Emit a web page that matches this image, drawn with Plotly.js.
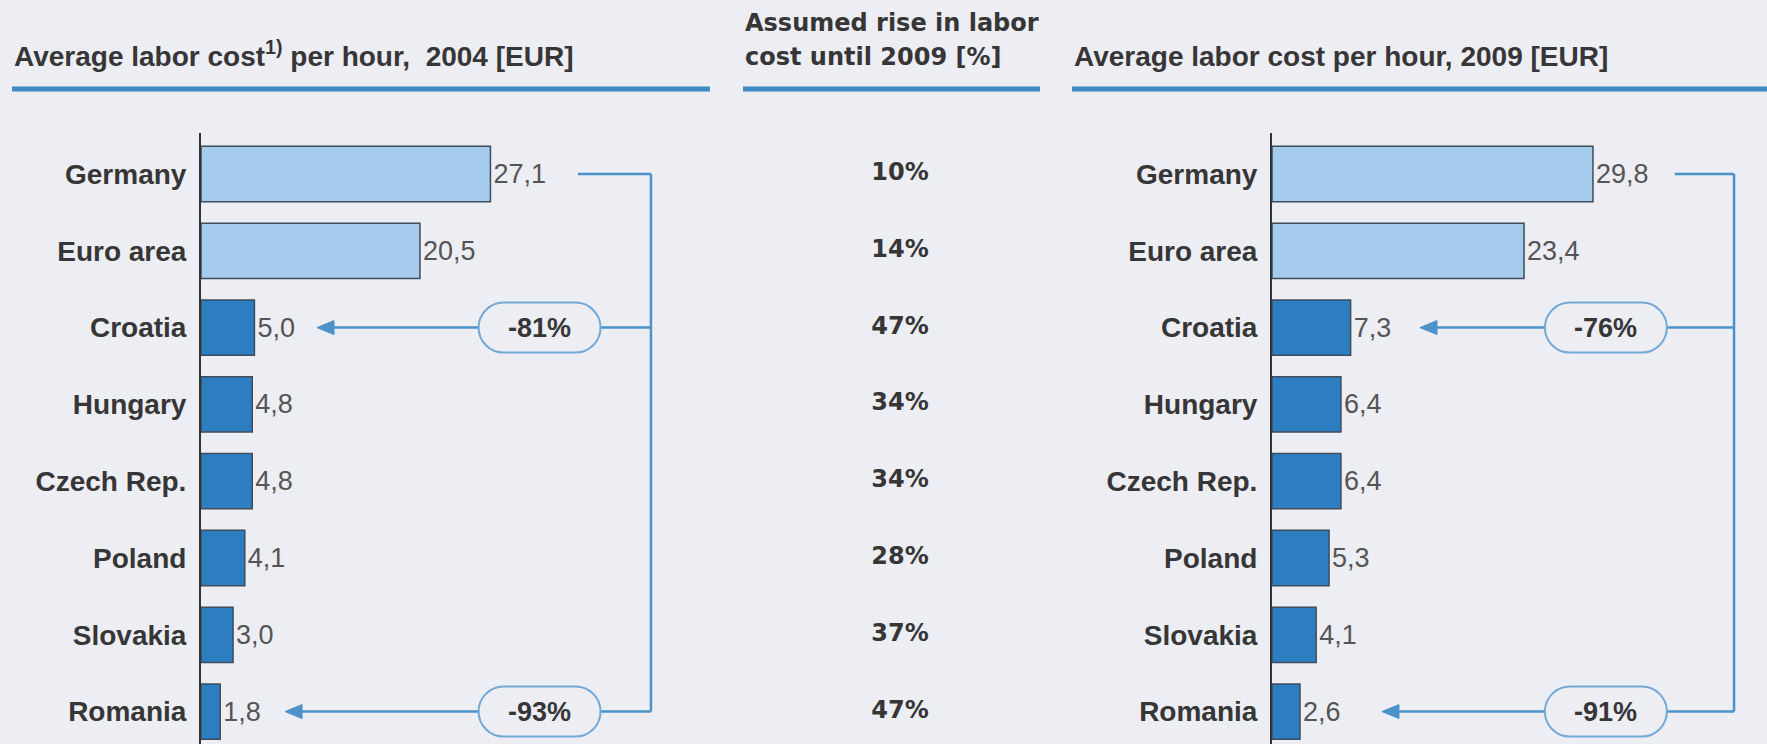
<!DOCTYPE html>
<html>
<head>
<meta charset="utf-8">
<script src="https://cdn.plot.ly/plotly-3.0.1.min.js"></script>
<style>
  html, body { margin: 0; padding: 0; background: #ededf4; }
  #chart { width: 1767px; height: 744px; }
</style>
</head>
<body>
<div id="chart"></div>
<script>
// ---- data ----
const categories = ['Germany', 'Euro area', 'Croatia', 'Hungary', 'Czech Rep.', 'Poland', 'Slovakia', 'Romania'];
const cost2004 = [27.1, 20.5, 5.0, 4.8, 4.8, 4.1, 3.0, 1.8];
const riseUntil2009 = [10, 14, 47, 34, 34, 28, 37, 47];
const cost2009 = [29.8, 23.4, 7.3, 6.4, 6.4, 5.3, 4.1, 2.6];
const gapLabels2004 = ['-81%', '-93%'];   // Croatia, Romania vs Germany
const gapLabels2009 = ['-76%', '-91%'];
const benchmarkGroups = ['Germany', 'Euro area'];

// ---- style ----
const W = 1767, H = 744;
const BG = '#ededf4';
const LIGHT = '#a5ccec', DARK = '#2c7ec1', OUTLINE = '#3e4c5c';
const BLUE = '#4a92c8', PILL = '#74a9d6', TXT = '#363636', VAL = '#555555';
const ARIAL = 'Liberation Sans, Arial, sans-serif';
const VERD = 'DejaVu Sans, Verdana, sans-serif';

const barColors = categories.map(c => benchmarkGroups.includes(c) ? LIGHT : DARK);
const px = v => v / W;
const py = v => 1 - v / H;
const idx = c => categories.indexOf(c);

const barTrace = (vals, xa, ya) => ({
  type: 'bar', orientation: 'h', x: vals, y: categories, xaxis: xa, yaxis: ya,
  width: 0.72,
  marker: { color: barColors, line: { color: OUTLINE, width: 1.5 } },
  text: vals, texttemplate: '%{x:.1f}', textposition: 'outside',
  textfont: { family: ARIAL, size: 27, color: VAL },
  constraintext: 'none', cliponaxis: false, hoverinfo: 'skip'
});

const traces = [
  barTrace(cost2004, 'x', 'y'),
  barTrace(cost2009, 'x2', 'y2'),
  {
    type: 'scatter', mode: 'text', xaxis: 'x3', yaxis: 'y',
    x: categories.map(() => 0.5), y: categories,
    text: riseUntil2009, texttemplate: '%{text}%',
    textfont: { family: VERD, size: 24, color: TXT, weight: 'bold' },
    cliponaxis: false, hoverinfo: 'skip'
  }
];

// pill path (pixel units around anchor)
function pillPath(w, h) {
  const r = h, a = w - r, k = 0.5523 * r;
  return `M ${-a} ${-h} L ${a} ${-h} C ${a + k} ${-h} ${w} ${-k} ${w} 0 ` +
         `C ${w} ${k} ${a + k} ${h} ${a} ${h} L ${-a} ${h} ` +
         `C ${-a - k} ${h} ${-w} ${k} ${-w} 0 C ${-w} ${-k} ${-a - k} ${-h} ${-a} ${-h} Z`;
}

const shapes = [];
const annotations = [];

// bracket with arrows; positions in axis units
function bracket(xa, ya, cfg) {
  const top = idx('Germany');
  const targets = [idx('Croatia'), idx('Romania')];
  shapes.push({ type: 'line', xref: xa, yref: ya, x0: cfg.start, x1: cfg.bx, y0: top, y1: top,
                line: { color: BLUE, width: 2.5 } });
  shapes.push({ type: 'line', xref: xa, yref: ya, x0: cfg.bx, x1: cfg.bx, y0: top, y1: targets[1],
                line: { color: BLUE, width: 2.5 } });
  targets.forEach((t, i) => {
    shapes.push({ type: 'line', xref: xa, yref: ya, x0: cfg.bx, x1: cfg.tips[i] + 1, y0: t, y1: t,
                  line: { color: BLUE, width: 2.5 } });
    shapes.push({ type: 'path', xref: xa, yref: ya, xsizemode: 'pixel', ysizemode: 'pixel',
                  xanchor: cfg.tips[i], yanchor: t, path: 'M 0 0 L 17 -7 L 17 7 Z',
                  fillcolor: BLUE, line: { color: BLUE, width: 1 } });
    shapes.push({ type: 'path', xref: xa, yref: ya, xsizemode: 'pixel', ysizemode: 'pixel',
                  xanchor: cfg.pill, yanchor: t, path: pillPath(61, 25),
                  fillcolor: BG, line: { color: PILL, width: 2 } });
    annotations.push({ xref: xa, yref: ya, x: cfg.pill, y: t, text: cfg.labels[i], showarrow: false,
                       font: { family: ARIAL, size: 27, color: TXT, weight: 'bold' } });
  });
}

bracket('x', 'y', { start: 35.3, bx: 42.13, pill: 31.7, tips: [10.86, 7.87], labels: gapLabels2004 });
bracket('x2', 'y2', { start: 37.4, bx: 42.9, pill: 31.0, tips: [13.74, 10.21], labels: gapLabels2009 });

// header titles and underlines
const titleFont = { family: ARIAL, size: 28, color: TXT, weight: 'bold' };
const midFont = { family: VERD, size: 24, color: TXT, weight: 'bold' };
annotations.push(
  { xref: 'paper', yref: 'paper', x: px(12), y: py(54), xanchor: 'left', yanchor: 'middle',
    text: 'Average labor cost<sup>1)</sup> per hour,  2004 [EUR]', showarrow: false, font: titleFont },
  { xref: 'paper', yref: 'paper', x: px(743), y: py(23), xanchor: 'left', yanchor: 'middle',
    text: 'Assumed rise in labor', showarrow: false, font: midFont },
  { xref: 'paper', yref: 'paper', x: px(743), y: py(57), xanchor: 'left', yanchor: 'middle',
    text: 'cost until 2009 [%]', showarrow: false, font: midFont },
  { xref: 'paper', yref: 'paper', x: px(1072), y: py(56), xanchor: 'left', yanchor: 'middle',
    text: 'Average labor cost per hour, 2009 [EUR]', showarrow: false, font: titleFont }
);
[[12, 710], [743, 1040], [1072, 1767]].forEach(([a, b]) => {
  shapes.push({ type: 'line', xref: 'paper', yref: 'paper', x0: px(a), x1: px(b), y0: py(89), y1: py(89),
                line: { color: '#3f8bc6', width: 5 } });
});

const yBase = {
  type: 'category', domain: [0, py(133)], range: [7.422, -0.534],
  showline: true, linecolor: '#333333', linewidth: 2, ticks: '', showgrid: false, zeroline: false,
  tickfont: { family: ARIAL, size: 28, color: TXT, weight: 'bold' }, ticklabelstandoff: 7,
  fixedrange: true
};
const xHidden = { visible: false, showgrid: false, zeroline: false, fixedrange: true };

const layout = {
  width: W, height: H, margin: { l: 0, r: 0, t: 0, b: 0 },
  paper_bgcolor: BG, plot_bgcolor: BG, showlegend: false, separators: ',.',
  xaxis: Object.assign({}, xHidden, { domain: [px(201), px(710)], range: [0, 509 / 10.68], anchor: 'y' }),
  xaxis2: Object.assign({}, xHidden, { domain: [px(1272), 1], range: [0, 495 / 10.77], anchor: 'y2' }),
  xaxis3: Object.assign({}, xHidden, { domain: [px(743), px(1057)], range: [0, 1], anchor: 'y' }),
  yaxis: Object.assign({}, yBase, { anchor: 'x' }),
  yaxis2: Object.assign({}, yBase, { anchor: 'x2', matches: 'y' }),
  shapes: shapes, annotations: annotations
};

Plotly.newPlot('chart', traces, layout, { staticPlot: true, displayModeBar: false });
</script>
</body>
</html>
